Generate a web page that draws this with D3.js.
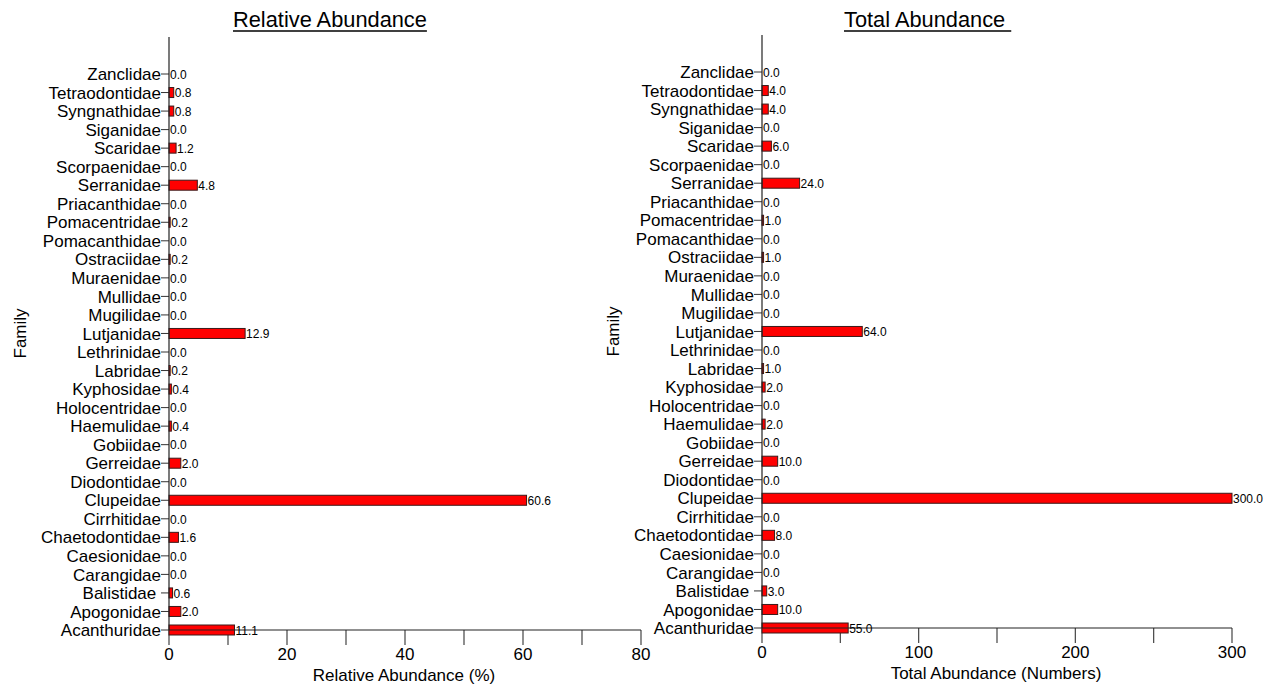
<!DOCTYPE html>
<meta charset="utf-8">
<style>
body { margin: 0; background: #fff; }
svg text { font-family: "Liberation Sans", Arial, sans-serif; fill: #000; }
.cat { font-size: 17px; }
.val { font-size: 12px; }
.tick-lbl { font-size: 17px; }
.ttl { font-size: 21.8px; }
.bar { fill: #ff0000; stroke: #3a1a1a; stroke-width: 1px; }
</style>
<body>
<div id="chart"></div>
<script src="https://cdn.jsdelivr.net/npm/d3@7"></script>
<script>
// families from bottom (Acanthuridae) to top (Zanclidae)
var families = ["Acanthuridae", "Apogonidae", "Balistidae ", "Carangidae", "Caesionidae",
  "Chaetodontidae", "Cirrhitidae", "Clupeidae", "Diodontidae", "Gerreidae", "Gobiidae",
  "Haemulidae", "Holocentridae", "Kyphosidae", "Labridae", "Lethrinidae", "Lutjanidae",
  "Mugilidae", "Mullidae", "Muraenidae", "Ostraciidae", "Pomacanthidae", "Pomacentridae",
  "Priacanthidae", "Serranidae", "Scorpaenidae", "Scaridae", "Siganidae", "Syngnathidae",
  "Tetraodontidae", "Zanclidae"];

var relAbundance = [11.1, 2.0, 0.6, 0.0, 0.0, 1.6, 0.0, 60.6, 0.0, 2.0, 0.0,
  0.4, 0.0, 0.4, 0.2, 0.0, 12.9, 0.0, 0.0, 0.0, 0.2, 0.0, 0.2,
  0.0, 4.8, 0.0, 1.2, 0.0, 0.8, 0.8, 0.0];

var totAbundance = [55, 10, 3, 0, 0, 8, 0, 300, 0, 10, 0,
  2, 0, 2, 1, 0, 64, 0, 0, 0, 1, 0, 1,
  0, 24, 0, 6, 0, 4, 4, 0];

var relTicks = [0, 10, 20, 30, 40, 50, 60, 70, 80];
var relTickLabels = [0, 20, 40, 60, 80];
var totTicks = [0, 50, 100, 150, 200, 250, 300];
var totTickLabels = [0, 100, 200, 300];

var W = 1267, H = 687;
var svg = d3.select("#chart").append("svg").attr("width", W).attr("height", H);

function panel(cfg) {
  var g = svg.append("g");
  var x = d3.scaleLinear().domain(cfg.domain).range([cfg.x0, cfg.x1]);
  // index 0 sits on the x axis, axis extends two slots above the last family
  var y = d3.scaleLinear().domain([0, families.length - 1]).range([cfg.yBottom, cfg.yTop]);
  var step = (cfg.yBottom - cfg.yTop) / (families.length - 1);
  var data = families.map(function(f, i) { return {name: f, v: cfg.values[i], i: i}; });

  // x axis ticks
  g.selectAll(".xt").data(cfg.ticks).enter().append("line")
    .attr("x1", function(d) { return x(d); }).attr("x2", function(d) { return x(d); })
    .attr("y1", cfg.yBottom).attr("y2", cfg.yBottom + 15)
    .attr("stroke", "#444").attr("stroke-width", 1.2);
  g.selectAll(".xl").data(cfg.tickLabels).enter().append("text")
    .attr("class", "tick-lbl")
    .attr("x", function(d) { return x(d); }).attr("y", cfg.yBottom + 30)
    .attr("text-anchor", "middle").text(function(d) { return d; });

  // y ticks and labels
  g.selectAll(".yt").data(data).enter().append("line")
    .attr("x1", cfg.x0 - 8).attr("x2", cfg.x0)
    .attr("y1", function(d) { return y(d.i); }).attr("y2", function(d) { return y(d.i); })
    .attr("stroke", "#333").attr("stroke-width", 1);
  g.selectAll(".cat").data(data).enter().append("text")
    .attr("class", "cat")
    .attr("x", cfg.x0 - 8).attr("y", function(d) { return y(d.i); })
    .attr("dy", "0.36em").attr("text-anchor", "end")
    .style("white-space", "pre")
    .text(function(d) { return d.name; });

  // bars
  g.selectAll(".bar").data(data.filter(function(d) { return d.v > 0; })).enter().append("rect")
    .attr("class", "bar")
    .attr("x", x(0))
    .attr("y", function(d) { return y(d.i) - 5; })
    .attr("width", function(d) { return x(d.v) - x(0); })
    .attr("height", 10);

  // axis lines
  g.append("line").attr("x1", cfg.x0).attr("x2", cfg.x1)
    .attr("y1", cfg.yBottom).attr("y2", cfg.yBottom)
    .attr("stroke", "#222").attr("stroke-width", 1.2);
  g.append("line").attr("x1", cfg.x0).attr("x2", cfg.x0)
    .attr("y1", cfg.yTop - 2 * step).attr("y2", cfg.yBottom)
    .attr("stroke", "#222").attr("stroke-width", 1.2);

  // value labels
  g.selectAll(".val").data(data).enter().append("text")
    .attr("class", "val")
    .attr("x", function(d) { return x(d.v) + 1; })
    .attr("y", function(d) { return y(d.i); })
    .attr("dy", "0.4em")
    .text(function(d) { return d.v.toFixed(1); });

  // axis titles
  g.append("text").attr("class", "tick-lbl")
    .attr("x", cfg.xTitleX).attr("y", cfg.yBottom + 51)
    .attr("text-anchor", "middle").text(cfg.xTitle);
  g.append("text").attr("class", "tick-lbl")
    .attr("transform", "translate(" + cfg.famX + "," + ((cfg.yTop - 2 * step + cfg.yBottom) / 2) + ") rotate(-90)")
    .attr("text-anchor", "middle").text("Family");

  // chart title, underlined by hand
  var t = g.append("text").attr("class", "ttl")
    .attr("x", cfg.titleX).attr("y", 27)
    .style("white-space", "pre")
    .text(cfg.title);
  var len = t.node().getComputedTextLength();
  g.append("line").attr("x1", cfg.titleX).attr("x2", cfg.titleX + len)
    .attr("y1", 31).attr("y2", 31).attr("stroke", "#000").attr("stroke-width", 1.5);
}

panel({
  values: relAbundance, domain: [0, 80], x0: 169, x1: 641,
  yTop: 74, yBottom: 630, ticks: relTicks, tickLabels: relTickLabels,
  xTitle: "Relative Abundance (%)", xTitleX: 404, famX: 26,
  title: "Relative Abundance", titleX: 233
});
panel({
  values: totAbundance, domain: [0, 300], x0: 762, x1: 1232,
  yTop: 72, yBottom: 628, ticks: totTicks, tickLabels: totTickLabels,
  xTitle: "Total Abundance (Numbers)", xTitleX: 996, famX: 619,
  title: "Total Abundance ", titleX: 844
});
</script>
</body>
